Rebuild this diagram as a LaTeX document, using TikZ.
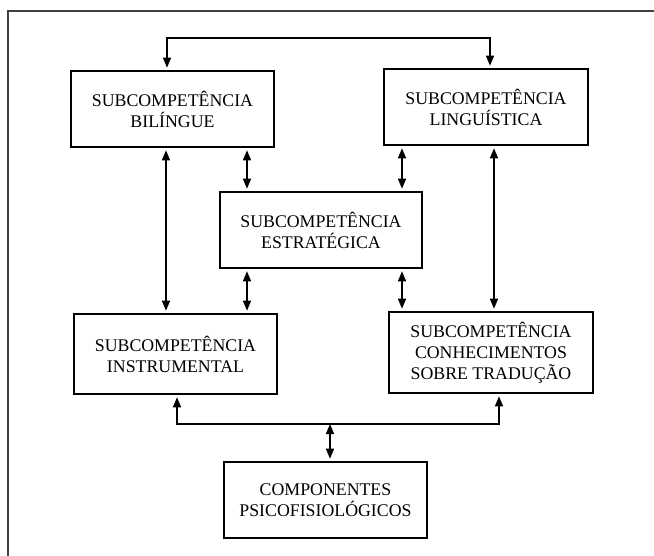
\documentclass[tikz,border=0pt]{standalone}
\usepackage{fontspec}
\setmainfont{Liberation Serif}
\usetikzlibrary{arrows.meta}
\tikzset{
  compbox/.style={draw, line width=1.6pt, align=center, minimum width=203pt, minimum height=76pt,
    inner sep=2pt, font=\fontsize{17.8}{21}\selectfont},
  link/.style={line width=1.4pt, {Triangle[length=10pt,width=8pt]}-{Triangle[length=10pt,width=8pt]},
    shorten <=2.5pt, shorten >=2.5pt}
}
\begin{document}
\begin{tikzpicture}[x=1pt,y=-1pt]
\useasboundingbox (0,0) rectangle (654,556);
\draw[line width=1.8pt, black!75] (8,556) -- (8,11) -- (654,11);
\node[compbox] (bil) at (172.5,109) {SUBCOMPETÊNCIA\\BILÍNGUE};
\node[compbox, minimum width=204pt] (ling) at (486,107) {SUBCOMPETÊNCIA\\LINGUÍSTICA};
\node[compbox, minimum width=202pt] (estr) at (321,230) {SUBCOMPETÊNCIA\\ESTRATÉGICA};
\node[compbox, minimum height=80pt] (instr) at (175.5,354) {SUBCOMPETÊNCIA\\INSTRUMENTAL};
\node[compbox, minimum width=204pt, minimum height=81pt] (conh) at (491,352.5) {SUBCOMPETÊNCIA\\CONHECIMENTOS\\SOBRE TRADUÇÃO};
\node[compbox] (comp) at (325.5,500) {COMPONENTES\\PSICOFISIOLÓGICOS};
% top link
\coordinate (topl) at (167,38);
\coordinate (topr) at (490,38);
\draw[link] (bil.north -| topl) -- (topl) -- (topr) -- (ling.north -| topr);
% vertical links
\coordinate (lx) at (166,0);
\coordinate (rx) at (494,0);
\coordinate (m1) at (247,0);
\coordinate (m2) at (402,0);
\draw[link] (bil.south -| lx) -- (instr.north -| lx);
\draw[link] (ling.south -| rx) -- (conh.north -| rx);
\draw[link] (bil.south -| m1) -- (estr.north -| m1);
\draw[link] (ling.south -| m2) -- (estr.north -| m2);
\draw[link] (estr.south -| m1) -- (instr.north -| m1);
\draw[link] (estr.south -| m2) -- (conh.north -| m2);
% bottom link
\coordinate (botl) at (177,424);
\coordinate (botr) at (499,424);
\coordinate (botm) at (330,424);
\draw[link] (instr.south -| botl) -- (botl) -- (botr) -- (conh.south -| botr);
\draw[link, shorten <=0pt] (botm) -- (comp.north -| botm);
\end{tikzpicture}
\end{document}
